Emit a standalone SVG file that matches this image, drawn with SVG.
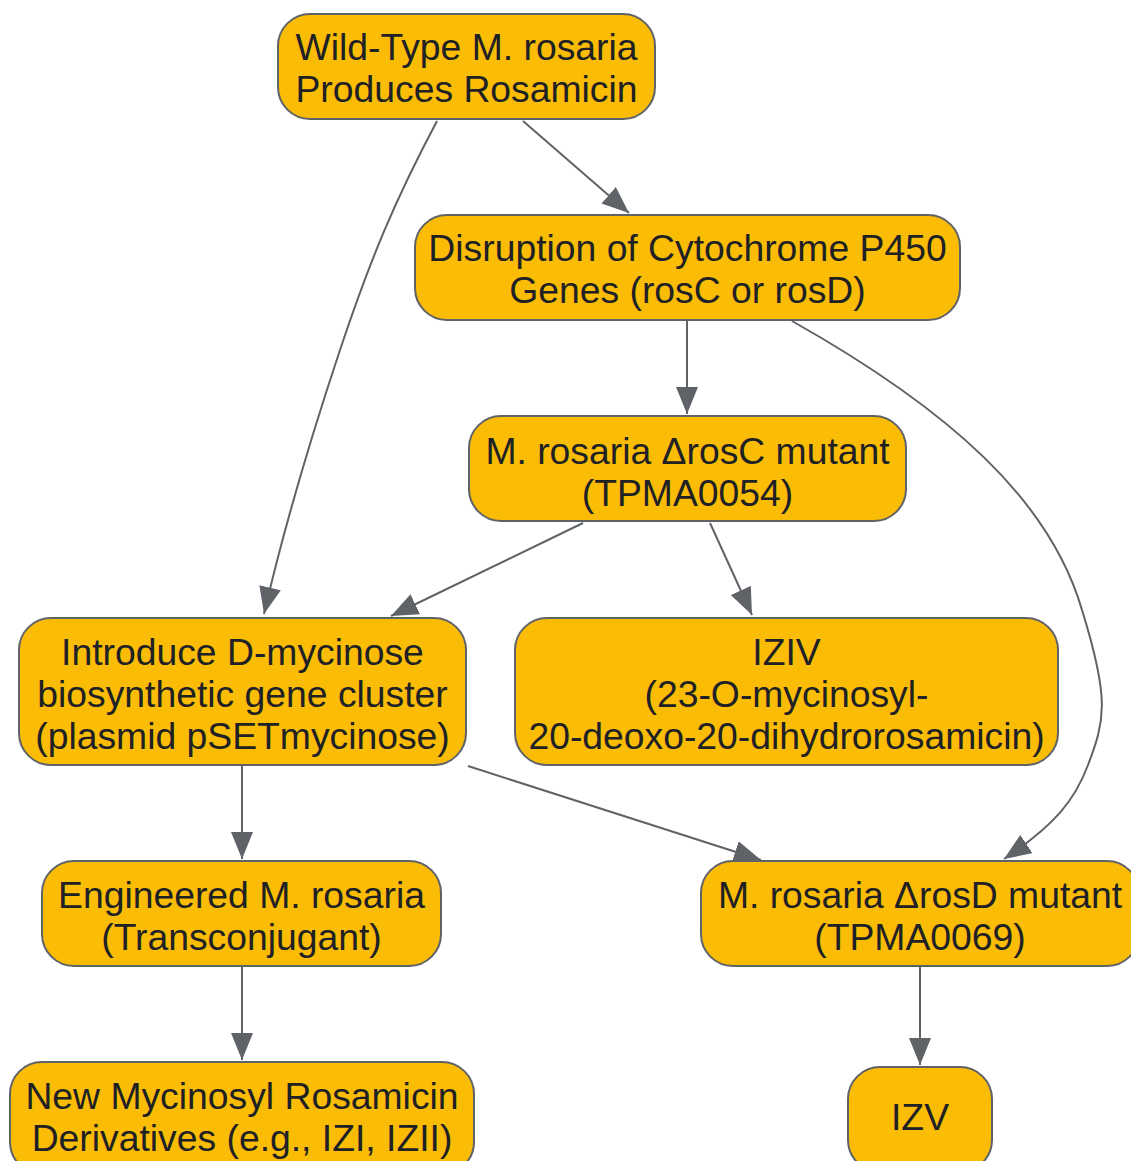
<svg xmlns="http://www.w3.org/2000/svg" width="1131" height="1161" viewBox="0 0 1131 1161">
<defs>
<style>
.n rect{fill:#FBBC05;stroke:#5F6368;stroke-width:2}
.n text{font-family:"Liberation Sans",Arial,sans-serif;font-size:37.3px;fill:#202124;text-anchor:middle}
.e path{fill:none;stroke:#5F6368;stroke-width:2}
</style>
<marker id="ah" markerUnits="userSpaceOnUse" markerWidth="28" markerHeight="22" refX="27" refY="11" orient="auto">
<path d="M0,0 L27,11 L0,22 z" fill="#5F6368"/>
</marker>
</defs>
<rect width="1131" height="1161" fill="#FFFFFF"/>
<g class="e">
<path d="M437,121 C395,200 370,260 340,350 C305,455 280,545 264,614" marker-end="url(#ah)"/>
<path d="M523,121 L629,213" marker-end="url(#ah)"/>
<path d="M687,321 L687,414" marker-end="url(#ah)"/>
<path d="M792,321 C950,410 1050,500 1082,610 C1110,700 1105,720 1088,765 C1075,800 1055,825 1004,859" marker-end="url(#ah)"/>
<path d="M583,523 L391,616" marker-end="url(#ah)"/>
<path d="M710,523 L752,615" marker-end="url(#ah)"/>
<path d="M242,766 L242,859" marker-end="url(#ah)"/>
<path d="M468,766 L761,860" marker-end="url(#ah)"/>
<path d="M242,967 L242,1060" marker-end="url(#ah)"/>
<path d="M920,967 L920,1065" marker-end="url(#ah)"/>
</g>
<g id="wildtype" class="n"><rect x="278" y="14" width="377" height="105" rx="32"/><text x="466.5" y="60">Wild-Type M. rosaria</text><text x="466.5" y="102">Produces Rosamicin</text></g>
<g id="disruption" class="n"><rect x="415" y="215" width="545" height="105" rx="32"/><text x="687.5" y="261">Disruption of Cytochrome P450</text><text x="687.5" y="303">Genes (rosC or rosD)</text></g>
<g id="rosC" class="n"><rect x="469" y="416" width="437" height="105" rx="32"/><text x="687.5" y="464">M. rosaria ΔrosC mutant</text><text x="687.5" y="506">(TPMA0054)</text></g>
<g id="introduce" class="n"><rect x="19" y="618" width="447" height="147" rx="32"/><text x="242.5" y="665">Introduce D-mycinose</text><text x="242.5" y="707">biosynthetic gene cluster</text><text x="242.5" y="749">(plasmid pSETmycinose)</text></g>
<g id="iziv" class="n"><rect x="515" y="618" width="543" height="147" rx="32"/><text x="786.5" y="665">IZIV</text><text x="786.5" y="707">(23-O-mycinosyl-</text><text x="786.5" y="749">20-deoxo-20-dihydrorosamicin)</text></g>
<g id="engineered" class="n"><rect x="42" y="861" width="399" height="105" rx="32"/><text x="241.5" y="908">Engineered M. rosaria</text><text x="241.5" y="950">(Transconjugant)</text></g>
<g id="rosD" class="n"><rect x="701" y="861" width="438" height="105" rx="32"/><text x="920" y="908">M. rosaria ΔrosD mutant</text><text x="920" y="950">(TPMA0069)</text></g>
<g id="derivatives" class="n"><rect x="10" y="1062" width="464" height="112" rx="32"/><text x="242" y="1109">New Mycinosyl Rosamicin</text><text x="242" y="1151">Derivatives (e.g., IZI, IZII)</text></g>
<g id="izv" class="n"><rect x="848" y="1067" width="144" height="105" rx="32"/><text x="920" y="1130">IZV</text></g>
</svg>
